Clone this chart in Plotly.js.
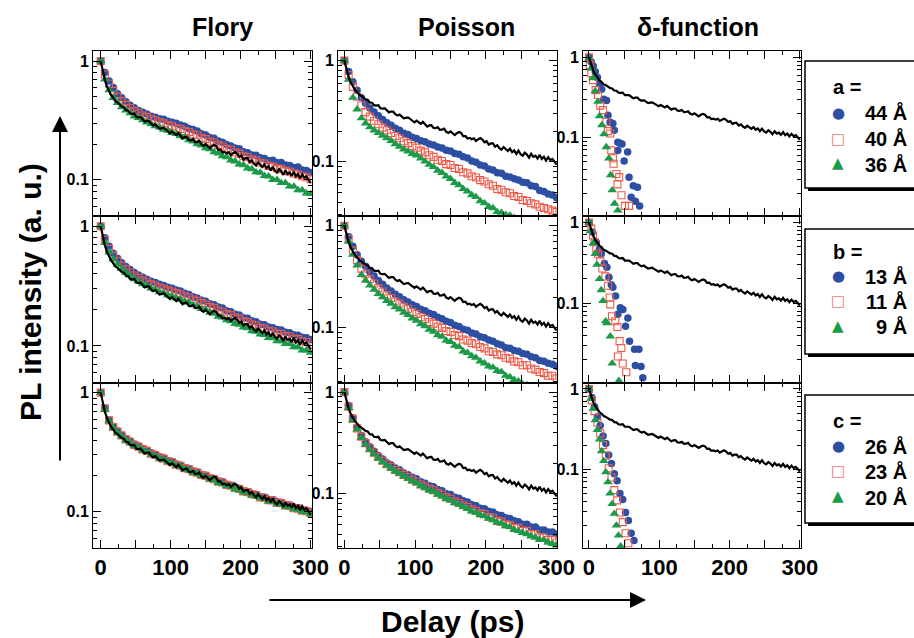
<!DOCTYPE html>
<html><head><meta charset="utf-8">
<script src="https://cdn.plot.ly/plotly-3.0.1.min.js"></script>
<style>html,body{margin:0;padding:0;background:#fff}#chart{width:914px;height:638px}</style>
</head><body><div id="chart"></div>
<script>
// ---------- text ----------
const columnTitles = ['Flory', 'Poisson', 'δ-function'];
const legendTitles = ['a =', 'b =', 'c ='];
const sizeLabels = [['44 Å', '40 Å', '36 Å'], ['13 Å', '11 Å', '9 Å'], ['26 Å', '23 Å', '20 Å']];
const legendGlyphs = ['●', '□', '▲'];
const yTitle = 'PL intensity (a. u.)';
const xTitle = 'Delay (ps)';
const xTickVals = [0, 50, 100, 150, 200, 250, 300];
const xTickText = ['0', '', '100', '', '200', '', '300'];
const xMinorVals = [25, 75, 125, 175, 225, 275];
const yTickVals = [1, 0.1];
const yTickText = ['1', '0.1'];
const yMinorVals = [0.2,0.3,0.4,0.5,0.6,0.7,0.8,0.9,0.02,0.03,0.04,0.05,0.06,0.07,0.08,0.09];

// ---------- experimental trace (black) ----------
const tBlack = [0,3,6,9,12,15,18,21,24,27,30,33,36,39,42,45,48,51,54,57,60,63,66,69,72,75,78,81,84,87,90,93,96,99,102,105,108,111,114,117,120,123,126,129,132,135,138,141,144,147,150,153,156,159,162,165,168,171,174,177,180,183,186,189,192,195,198,201,204,207,210,213,216,219,222,225,228,231,234,237,240,243,246,249,252,255,258,261,264,267,270,273,276,279,282,285,288,291,294,297,300];
const vBlack = [1.0,0.80,0.69,0.61,0.555,0.515,0.49,0.46,0.448,0.428,0.415,0.41,0.386,0.384,0.363,0.36,0.363,0.338,0.335,0.338,0.324,0.308,0.314,0.314,0.296,0.287,0.293,0.282,0.269,0.272,0.275,0.265,0.253,0.246,0.255,0.246,0.237,0.248,0.232,0.223,0.229,0.23,0.216,0.215,0.22,0.207,0.208,0.213,0.198,0.193,0.2,0.191,0.184,0.192,0.197,0.193,0.179,0.18,0.17,0.172,0.167,0.171,0.161,0.167,0.172,0.166,0.156,0.16,0.148,0.152,0.152,0.141,0.146,0.137,0.132,0.14,0.134,0.128,0.135,0.125,0.13,0.12,0.129,0.119,0.115,0.123,0.118,0.11,0.12,0.112,0.115,0.108,0.117,0.107,0.112,0.103,0.111,0.104,0.107,0.099,0.094];

// ---------- Flory and Poisson simulations (common delay grid) ----------
const tMark = [0,6,12,18,24,30,36,42,48,54,60,66,72,78,84,90,96,102,108,114,120,126,132,138,144,150,156,162,168,174,180,186,192,198,204,210,216,222,228,234,240,246,252,258,264,270,276,282,288,294,300];

const floryBlueA = [1.0,0.80,0.68,0.60,0.53,0.49,0.455,0.425,0.405,0.383,0.37,0.358,0.343,0.337,0.327,0.323,0.311,0.305,0.3,0.289,0.283,0.271,0.265,0.258,0.244,0.238,0.227,0.224,0.212,0.207,0.198,0.193,0.185,0.183,0.172,0.169,0.162,0.161,0.153,0.151,0.145,0.146,0.139,0.14,0.133,0.132,0.127,0.128,0.121,0.12,0.115];
const floryRedA = [1.0,0.77,0.645,0.56,0.5,0.46,0.428,0.403,0.379,0.364,0.348,0.337,0.324,0.317,0.305,0.299,0.288,0.283,0.272,0.268,0.258,0.252,0.242,0.237,0.226,0.22,0.21,0.206,0.196,0.191,0.182,0.179,0.17,0.166,0.158,0.155,0.148,0.145,0.139,0.137,0.131,0.129,0.125,0.123,0.119,0.117,0.113,0.111,0.107,0.105,0.101];
const floryGreenA = [1.0,0.70,0.57,0.49,0.445,0.41,0.385,0.365,0.343,0.333,0.318,0.305,0.295,0.283,0.276,0.265,0.26,0.249,0.244,0.233,0.228,0.216,0.211,0.2,0.195,0.185,0.181,0.171,0.167,0.158,0.155,0.146,0.143,0.135,0.133,0.125,0.123,0.116,0.115,0.108,0.107,0.1,0.1,0.094,0.094,0.088,0.088,0.082,0.082,0.077,0.076];

const floryBlueB = [1.0,0.80,0.68,0.595,0.54,0.495,0.46,0.435,0.41,0.392,0.374,0.361,0.347,0.338,0.327,0.32,0.309,0.303,0.293,0.287,0.275,0.269,0.257,0.252,0.241,0.236,0.225,0.221,0.211,0.207,0.197,0.193,0.184,0.181,0.172,0.17,0.162,0.159,0.152,0.15,0.144,0.142,0.137,0.136,0.13,0.129,0.124,0.123,0.118,0.117,0.113];
const floryRedB = [1.0,0.77,0.645,0.565,0.51,0.468,0.436,0.411,0.387,0.37,0.353,0.34,0.327,0.318,0.307,0.3,0.291,0.285,0.277,0.27,0.26,0.254,0.244,0.238,0.228,0.222,0.212,0.207,0.198,0.193,0.185,0.181,0.173,0.169,0.161,0.158,0.151,0.148,0.142,0.14,0.134,0.132,0.127,0.126,0.121,0.12,0.115,0.114,0.109,0.108,0.103];
const floryGreenB = [1.0,0.73,0.605,0.53,0.478,0.44,0.408,0.386,0.361,0.346,0.328,0.318,0.303,0.295,0.282,0.276,0.265,0.26,0.25,0.244,0.235,0.23,0.219,0.214,0.204,0.2,0.19,0.186,0.176,0.173,0.164,0.161,0.153,0.151,0.143,0.141,0.133,0.132,0.125,0.124,0.117,0.116,0.11,0.11,0.104,0.104,0.098,0.098,0.092,0.092,0.088];

const floryBlueC = [1.0,0.74,0.59,0.52,0.475,0.44,0.412,0.392,0.37,0.357,0.34,0.328,0.312,0.303,0.289,0.282,0.269,0.264,0.251,0.246,0.235,0.229,0.22,0.215,0.206,0.202,0.193,0.189,0.181,0.178,0.17,0.167,0.16,0.157,0.15,0.148,0.142,0.14,0.134,0.132,0.127,0.126,0.121,0.12,0.115,0.114,0.109,0.108,0.104,0.103,0.1];
const floryRedC = [1.0,0.74,0.585,0.515,0.47,0.436,0.405,0.387,0.364,0.352,0.334,0.324,0.307,0.299,0.285,0.279,0.265,0.26,0.248,0.243,0.232,0.227,0.217,0.213,0.203,0.2,0.191,0.187,0.179,0.176,0.168,0.165,0.158,0.155,0.148,0.146,0.14,0.138,0.132,0.131,0.125,0.124,0.119,0.118,0.113,0.112,0.107,0.106,0.102,0.101,0.098];
const floryGreenC = [1.0,0.72,0.575,0.505,0.46,0.428,0.398,0.38,0.357,0.346,0.328,0.318,0.302,0.294,0.28,0.274,0.261,0.256,0.244,0.239,0.228,0.223,0.213,0.209,0.2,0.196,0.187,0.184,0.175,0.172,0.165,0.162,0.155,0.152,0.145,0.143,0.137,0.135,0.13,0.128,0.122,0.121,0.116,0.115,0.11,0.109,0.105,0.104,0.1,0.099,0.095];

const poissonBlueA = [1.0,0.78,0.62,0.51,0.43,0.38,0.34,0.31,0.285,0.262,0.243,0.23,0.215,0.205,0.192,0.186,0.175,0.17,0.162,0.158,0.15,0.147,0.14,0.137,0.13,0.128,0.121,0.119,0.112,0.109,0.102,0.099,0.093,0.091,0.085,0.083,0.078,0.077,0.072,0.071,0.068,0.066,0.063,0.062,0.058,0.057,0.052,0.051,0.048,0.047,0.044];
const poissonRedA = [1.0,0.72,0.55,0.44,0.36,0.31,0.28,0.255,0.235,0.218,0.205,0.193,0.18,0.171,0.16,0.153,0.143,0.138,0.129,0.124,0.116,0.112,0.105,0.102,0.095,0.093,0.087,0.085,0.079,0.077,0.072,0.07,0.066,0.064,0.06,0.058,0.054,0.053,0.05,0.049,0.046,0.045,0.042,0.041,0.039,0.038,0.036,0.035,0.034,0.033,0.032];
const poissonGreenA = [1.0,0.65,0.43,0.33,0.27,0.24,0.22,0.205,0.193,0.182,0.172,0.161,0.15,0.141,0.133,0.127,0.12,0.116,0.108,0.101,0.094,0.089,0.082,0.078,0.072,0.068,0.062,0.059,0.054,0.051,0.047,0.045,0.041,0.039,0.036,0.035,0.032,0.0315,0.03,0.0295,0.028,0.027,0.026,0.025,0.024,0.023,0.022,0.021,0.02,0.019,0.018];

const poissonBlueB = [1.0,0.78,0.63,0.52,0.45,0.40,0.355,0.322,0.29,0.267,0.245,0.23,0.213,0.202,0.188,0.179,0.168,0.162,0.152,0.147,0.139,0.135,0.127,0.123,0.116,0.113,0.106,0.103,0.097,0.095,0.089,0.087,0.082,0.08,0.076,0.074,0.07,0.068,0.064,0.063,0.06,0.059,0.056,0.055,0.052,0.051,0.048,0.047,0.045,0.044,0.042];
const poissonRedB = [1.0,0.74,0.57,0.46,0.38,0.335,0.3,0.272,0.245,0.227,0.208,0.196,0.182,0.173,0.161,0.154,0.143,0.137,0.127,0.122,0.114,0.11,0.103,0.1,0.093,0.091,0.085,0.083,0.077,0.075,0.071,0.069,0.065,0.063,0.059,0.058,0.055,0.054,0.051,0.05,0.047,0.046,0.043,0.043,0.04,0.039,0.037,0.036,0.034,0.034,0.032];
const poissonGreenB = [1.0,0.70,0.52,0.41,0.33,0.29,0.26,0.237,0.215,0.2,0.184,0.173,0.16,0.152,0.141,0.134,0.124,0.118,0.109,0.104,0.096,0.092,0.085,0.082,0.075,0.073,0.067,0.065,0.059,0.057,0.053,0.051,0.047,0.045,0.042,0.041,0.038,0.037,0.034,0.033,0.031,0.03,0.028,0.0275,0.026,0.025,0.024,0.023,0.022,0.021,0.02];

const poissonBlueC = [1.0,0.74,0.56,0.45,0.375,0.325,0.29,0.262,0.238,0.22,0.202,0.192,0.179,0.172,0.16,0.154,0.145,0.14,0.131,0.127,0.12,0.117,0.11,0.107,0.1,0.098,0.092,0.09,0.085,0.083,0.078,0.076,0.072,0.071,0.067,0.066,0.062,0.061,0.058,0.057,0.054,0.053,0.05,0.05,0.047,0.047,0.044,0.044,0.042,0.042,0.04];
const poissonRedC = [1.0,0.72,0.545,0.44,0.365,0.315,0.28,0.253,0.23,0.211,0.195,0.183,0.171,0.163,0.153,0.146,0.137,0.131,0.123,0.118,0.112,0.108,0.102,0.098,0.092,0.089,0.084,0.081,0.077,0.074,0.07,0.068,0.064,0.063,0.059,0.058,0.054,0.053,0.05,0.049,0.046,0.046,0.043,0.043,0.04,0.04,0.037,0.037,0.035,0.035,0.033];
const poissonGreenC = [1.0,0.70,0.53,0.43,0.355,0.305,0.27,0.245,0.222,0.205,0.189,0.177,0.166,0.158,0.148,0.141,0.133,0.127,0.119,0.114,0.108,0.104,0.098,0.094,0.089,0.086,0.081,0.078,0.074,0.071,0.067,0.065,0.062,0.06,0.057,0.055,0.052,0.051,0.048,0.047,0.044,0.043,0.041,0.04,0.038,0.037,0.035,0.035,0.033,0.032,0.031];

// ---------- δ-function simulations (own delay points) ----------
const deltaBlueA_t = [0,3,6,9,12,15,18,21,25,27,30,34,36,41,41,44,47,50,55,57,60,63,66,69,72];
const deltaBlueA_v = [1.0,0.88,0.78,0.66,0.56,0.47,0.40,0.30,0.29,0.19,0.155,0.15,0.123,0.087,0.069,0.085,0.083,0.051,0.066,0.032,0.018,0.025,0.016,0.024,0.014];
const deltaRedA_t = [0,1,3.3,5.7,9.5,12.8,16.1,19.9,24.6,27,30.3,31.7,34,35,39,40.5,43,46.2,51,57];
const deltaRedA_v = [1.0,0.80,0.63,0.52,0.39,0.34,0.25,0.22,0.157,0.12,0.112,0.069,0.055,0.047,0.035,0.026,0.032,0.019,0.014,0.014];
const deltaGreenA_t = [0,3.3,5.7,9,12.8,15.1,18.4,21.3,24.6,28.4,30.8,33.1,36.4,41];
const deltaGreenA_v = [0.97,0.73,0.55,0.38,0.28,0.185,0.143,0.11,0.076,0.055,0.034,0.022,0.015,0.0123];

const deltaBlueB_t = [0,4.7,10.4,15,17.5,22,25.5,28.4,31.7,34,37.8,41,44.5,48.2,52,55.3,57.7,64.8,66,71,74,76.6];
const deltaBlueB_v = [1.0,0.76,0.57,0.47,0.41,0.31,0.28,0.21,0.17,0.158,0.123,0.073,0.088,0.084,0.052,0.066,0.034,0.027,0.017,0.027,0.0165,0.012];
const deltaRedB_t = [0,3.3,5.7,8,10.4,12.8,16,19,23.2,27,29.4,30.3,32.7,37.4,40.5,41,43.5,46,48,53];
const deltaRedB_v = [1.0,0.84,0.69,0.57,0.47,0.41,0.33,0.27,0.215,0.165,0.118,0.097,0.069,0.06,0.051,0.022,0.034,0.028,0.018,0.014];
const deltaGreenB_t = [0,1.9,5.7,9,11.4,15.1,17.5,19.9,23.7,25.5,30.3,33,42.5];
const deltaGreenB_v = [1.0,0.78,0.55,0.41,0.30,0.20,0.146,0.107,0.06,0.057,0.039,0.018,0.011];

const deltaBlueC_t = [0,4,8,12,16,20,24,28,32,36,40,44,48,52,56,60,64];
const deltaBlueC_v = [1.0,0.78,0.60,0.45,0.35,0.26,0.21,0.15,0.118,0.088,0.072,0.05,0.042,0.029,0.023,0.016,0.013];
const deltaRedC_t = [0,4,8,12,16,20,24,28,32,36,40,44,48,52,56];
const deltaRedC_v = [1.0,0.72,0.53,0.38,0.28,0.2,0.148,0.103,0.079,0.055,0.041,0.029,0.022,0.016,0.012];
const deltaGreenC_t = [0,3,6,9,12,15,18,21,24,27,30,33,36,39,42,45];
const deltaGreenC_v = [1.0,0.75,0.57,0.41,0.31,0.235,0.168,0.127,0.092,0.069,0.05,0.037,0.028,0.02,0.015,0.011];

// ---------- assemble ----------
const W = 914, H = 638;
const px = v => v / W, py = v => 1 - v / H;
const FONT = 'Liberation Sans, Arial, Helvetica, sans-serif';
const colX = [[93, 312], [338, 557], [583, 801]];
const rowY = [[51, 216], [216, 382.5], [382.5, 548]];
const xRanges = [[-11, 302], [-9, 300.5], [-8.5, 301.5]];
const yRanges = [[-1.305, 0.085], [-1.535, 0.095], [-1.98, 0.08]];
const blue = '#2c4fa3', red = '#ef5a47', green = '#1b9a4a';
const glyphColors = [blue, '#f07a66', green];

const panels = [
  [[tMark, floryBlueA], [tMark, floryRedA], [tMark, floryGreenA]],
  [[tMark, poissonBlueA], [tMark, poissonRedA], [tMark, poissonGreenA]],
  [[deltaBlueA_t, deltaBlueA_v], [deltaRedA_t, deltaRedA_v], [deltaGreenA_t, deltaGreenA_v]],
  [[tMark, floryBlueB], [tMark, floryRedB], [tMark, floryGreenB]],
  [[tMark, poissonBlueB], [tMark, poissonRedB], [tMark, poissonGreenB]],
  [[deltaBlueB_t, deltaBlueB_v], [deltaRedB_t, deltaRedB_v], [deltaGreenB_t, deltaGreenB_v]],
  [[tMark, floryBlueC], [tMark, floryRedC], [tMark, floryGreenC]],
  [[tMark, poissonBlueC], [tMark, poissonRedC], [tMark, poissonGreenC]],
  [[deltaBlueC_t, deltaBlueC_v], [deltaRedC_t, deltaRedC_v], [deltaGreenC_t, deltaGreenC_v]]
];

const markerStyles = [
  {symbol: 'circle', size: 7.5, color: blue, line: {width: 0}},
  {symbol: 'square-open', size: 7, color: red, line: {width: 1.1}},
  {symbol: 'triangle-up', size: 8.5, color: green, line: {width: 0}}
];

const traces = [];
const layout = {
  width: W, height: H, margin: {l: 0, r: 0, t: 0, b: 0},
  paper_bgcolor: '#fff', plot_bgcolor: 'rgba(0,0,0,0)',
  showlegend: false, hovermode: false,
  font: {family: FONT, color: '#000'},
  shapes: [], annotations: []
};

for (let r = 0; r < 3; r++) {
  for (let c = 0; c < 3; c++) {
    const n = r * 3 + c + 1;
    const xa = 'x' + (n === 1 ? '' : n), ya = 'y' + (n === 1 ? '' : n);
    const xk = 'xaxis' + (n === 1 ? '' : n), yk = 'yaxis' + (n === 1 ? '' : n);
    layout[xk] = {
      domain: [px(colX[c][0]), px(colX[c][1])], range: xRanges[c], anchor: ya,
      tickmode: 'array', tickvals: xTickVals, ticktext: xTickText,
      ticks: 'inside', ticklen: 8, tickwidth: 1, tickcolor: '#000',
      minor: {tickmode: 'array', tickvals: xMinorVals, ticks: 'inside', ticklen: 4, tickwidth: 1, tickcolor: '#000', showgrid: false},
      showline: true, linecolor: '#000', linewidth: 1, mirror: 'ticks',
      showgrid: false, zeroline: false, showticklabels: r === 2,
      tickfont: {family: FONT, size: 22, weight: 'bold', color: '#000'}
    };
    layout[yk] = {
      type: 'log', domain: [py(rowY[r][1]), py(rowY[r][0])], range: yRanges[c], anchor: xa,
      tickmode: 'array', tickvals: yTickVals, ticktext: yTickText,
      ticks: 'inside', ticklen: 8, tickwidth: 1, tickcolor: '#000',
      minor: {tickmode: 'array', tickvals: yMinorVals, ticks: 'inside', ticklen: 4, tickwidth: 1, tickcolor: '#000', showgrid: false},
      showline: true, linecolor: '#000', linewidth: 1, mirror: 'ticks',
      showgrid: false, zeroline: false,
      tickfont: {family: FONT, size: 16, weight: 'bold', color: '#000'}
    };
    panels[n - 1].forEach((s, k) => {
      traces.push({
        type: 'scatter', mode: 'markers', x: s[0], y: s[1], xaxis: xa, yaxis: ya,
        name: sizeLabels[r][k], marker: markerStyles[k], cliponaxis: true
      });
    });
    traces.push({
      type: 'scatter', mode: 'lines', x: tBlack, y: vBlack, xaxis: xa, yaxis: ya,
      name: 'experiment', line: {color: '#000', width: 2.2}, cliponaxis: true
    });
  }
}

// key boxes (one per row), drawn as shapes + text
const boxes = [[61, 188], [229, 354], [395, 523]];
const keyTitleY = [87, 252, 421];
const keyItemY = [[113, 139, 164], [276, 301, 327], [446, 471, 497]];
const bold = (s) => ({family: FONT, size: s, weight: 'bold', color: '#000'});
boxes.forEach((b, r) => {
  layout.shapes.push({type: 'rect', xref: 'paper', yref: 'paper', x0: px(805), x1: px(930), y0: py(b[1]), y1: py(b[0]), line: {color: '#000', width: 1.5}, fillcolor: 'rgba(0,0,0,0)'});
  layout.shapes.push({type: 'line', xref: 'paper', yref: 'paper', x0: px(808), x1: px(930), y0: py(b[1] + 1.5), y1: py(b[1] + 1.5), line: {color: '#000', width: 3}});
  layout.annotations.push({text: legendTitles[r], xref: 'paper', yref: 'paper', x: px(831), y: py(keyTitleY[r]), xanchor: 'left', yanchor: 'middle', showarrow: false, font: bold(20)});
  for (let k = 0; k < 3; k++) {
    layout.annotations.push({text: legendGlyphs[k], xref: 'paper', yref: 'paper', x: px(838), y: py(keyItemY[r][k] + (k === 2 ? -1 : 0)), xanchor: 'center', yanchor: 'middle', showarrow: false,
      font: {family: 'DejaVu Sans', size: [15, 15, 15][k], color: glyphColors[k]}});
    layout.annotations.push({text: sizeLabels[r][k], xref: 'paper', yref: 'paper', x: px(909), y: py(keyItemY[r][k]), xanchor: 'right', yanchor: 'middle', showarrow: false, font: bold(20)});
  }
});

// titles
const titleX = [222, 467, 698];
columnTitles.forEach((t, c) => layout.annotations.push({
  text: t, xref: 'paper', yref: 'paper', x: px(titleX[c]), y: py(27), xanchor: 'center', yanchor: 'middle',
  showarrow: false, font: bold(25)
}));
layout.annotations.push({text: yTitle, xref: 'paper', yref: 'paper', x: px(31), y: py(292), textangle: -90,
  xanchor: 'center', yanchor: 'middle', showarrow: false, font: bold(30)});
layout.annotations.push({text: xTitle, xref: 'paper', yref: 'paper', x: px(452), y: py(621),
  xanchor: 'center', yanchor: 'middle', showarrow: false, font: bold(30)});
// arrows
layout.annotations.push({text: '', xref: 'paper', yref: 'paper', x: px(60), y: py(116), axref: 'pixel', ayref: 'pixel', ax: 0, ay: 346,
  showarrow: true, arrowhead: 2, arrowsize: 1.6, arrowwidth: 2, arrowcolor: '#000'});
layout.annotations.push({text: '', xref: 'paper', yref: 'paper', x: px(646), y: py(600), axref: 'pixel', ayref: 'pixel', ax: -378, ay: 0,
  showarrow: true, arrowhead: 2, arrowsize: 1.6, arrowwidth: 2, arrowcolor: '#000'});

Plotly.newPlot('chart', traces, layout, {staticPlot: true, displayModeBar: false});
</script></body></html>
